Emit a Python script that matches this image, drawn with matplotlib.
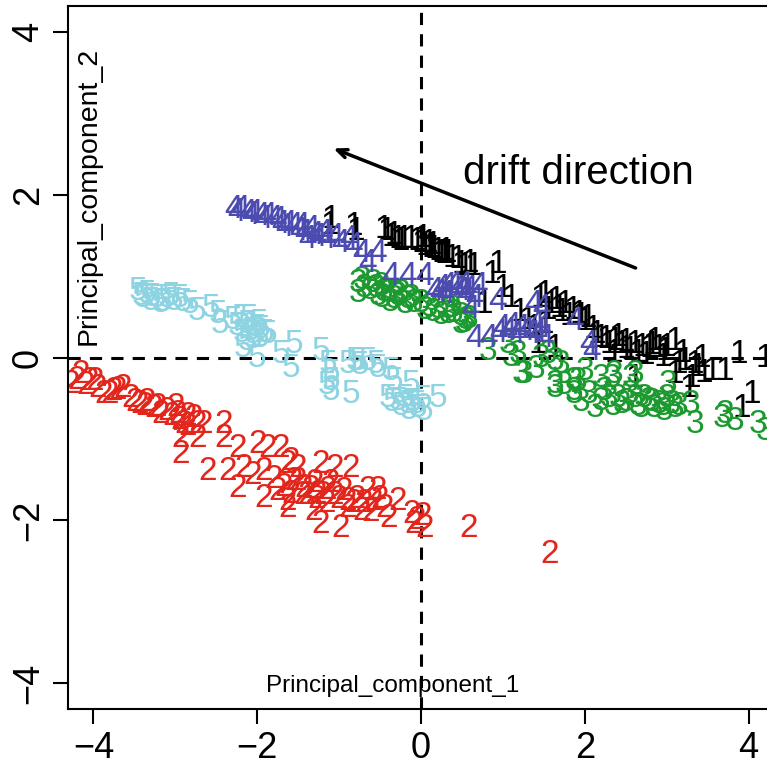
import matplotlib
matplotlib.use('Agg')
import matplotlib.pyplot as plt

# PCA scores (PC1, PC2) per class, each point drawn as its class digit
class1_scores = [
    (-1.10, 1.69), (-0.82, 1.61), (-0.45, 1.57), (-0.37, 1.48), (-0.28, 1.45), (-0.21, 1.45),
    (-0.12, 1.45), (0.00, 1.40), (0.09, 1.40), (0.16, 1.33), (0.24, 1.28), (0.33, 1.28),
    (0.53, 1.12), (0.65, 1.12), (0.12, 1.34), (0.21, 1.30), (0.28, 1.26), (0.49, 1.14),
    (0.86, 1.02), (0.94, 1.14), (0.77, 0.65), (1.10, 0.72), (1.51, 0.77), (1.59, 0.65),
    (1.68, 0.60), (1.75, 0.65), (1.92, 0.53), (2.00, 0.44), (2.04, 0.48), (2.20, 0.23),
    (2.29, 0.16), (2.36, 0.20), (2.45, 0.16), (2.61, 0.16), (2.78, 0.11), (2.90, 0.11),
    (2.97, 0.07), (3.10, 0.20), (3.22, -0.05), (3.34, -0.09), (3.43, -0.01), (3.55, -0.17),
    (3.71, -0.17), (3.88, 0.04), (4.20, -0.01), (4.04, -0.45), (3.92, -0.63), (3.27, -0.38),
    (2.61, -0.26), (1.38, 0.36), (1.51, 0.40), (1.43, 0.16), (1.63, 0.11), (3.10, -0.21),
    (3.30, -0.26), (2.50, 0.10), (2.65, 0.05), (2.85, 0.20), (2.35, 0.05), (1.80, 0.50),
    (1.20, 0.55), (-0.42, 1.55), (-0.33, 1.50), (-0.25, 1.42), (-0.05, 1.43), (0.05, 1.37),
    (0.14, 1.38), (0.30, 1.30), (0.38, 1.22), (0.45, 1.20), (0.60, 1.15), (0.02, 1.46),
    (-1.12, 1.62), (-0.80, 1.55), (1.45, 0.72), (1.55, 0.58), (1.65, 0.70), (1.72, 0.55),
    (1.85, 0.58), (1.95, 0.50), (2.10, 0.35), (2.15, 0.28), (2.25, 0.22), (2.40, 0.25),
    (2.50, 0.18), (2.55, 0.08), (2.70, 0.12), (2.75, 0.02), (2.82, 0.15), (2.95, 0.00),
    (3.00, 0.12), (3.15, -0.08), (3.20, 0.05), (3.38, -0.12), (3.45, -0.20), (1.00, 0.85),
    (1.30, 0.45),
]

class2_scores = [
    (-4.28, -0.33), (-4.16, -0.21), (-4.04, -0.29), (-3.88, -0.45), (-3.64, -0.38), (-3.55, -0.50),
    (-3.43, -0.58), (-3.27, -0.63), (-3.18, -0.70), (-3.10, -0.66), (-2.97, -0.70), (-2.90, -0.82),
    (-2.78, -0.75), (-2.73, -0.82), (-2.94, -0.99), (-2.73, -0.99), (-2.41, -0.82), (-2.41, -0.99),
    (-2.24, -1.12), (-2.00, -1.07), (-1.87, -1.12), (-1.71, -1.12), (-2.94, -1.19), (-2.61, -1.40),
    (-2.36, -1.40), (-2.17, -1.36), (-2.24, -1.61), (-1.92, -1.40), (-1.92, -1.73), (-1.59, -1.28),
    (-1.55, -1.52), (-1.59, -1.68), (-1.63, -1.85), (-1.43, -1.61), (-1.63, -1.31), (-1.51, -1.36),
    (-1.63, -1.77), (-1.51, -1.52), (-1.22, -1.31), (-1.06, -1.36), (-0.86, -1.36), (-1.26, -1.68),
    (-1.14, -1.64), (-1.22, -2.05), (-1.31, -1.89), (-0.98, -2.10), (-0.89, -1.77), (-0.82, -1.80),
    (-0.73, -1.89), (-0.65, -1.64), (-0.53, -1.64), (-0.58, -1.77), (-0.45, -1.85), (-0.40, -1.98),
    (-0.28, -1.77), (-0.12, -1.93), (-0.09, -2.05), (0.04, -2.10), (0.58, -2.10), (1.57, -2.42),
    (-4.20, -0.28), (-3.95, -0.38), (-3.75, -0.42), (-3.35, -0.55), (-3.00, -0.62), (-2.85, -0.72),
    (-1.30, -1.55), (-1.20, -1.70), (-1.00, -1.75), (-0.95, -1.65), (-1.40, -1.70), (-1.10, -1.55),
    (-4.10, -0.35), (-3.98, -0.30), (-3.80, -0.45), (-3.70, -0.40), (-3.50, -0.55), (-3.38, -0.60),
    (-3.22, -0.62), (-3.05, -0.72), (-2.95, -0.78), (-2.85, -0.85), (-2.65, -0.82), (-1.68, -1.60),
    (-1.45, -1.70), (-1.35, -1.62), (-1.28, -1.75), (-1.15, -1.80), (-1.05, -1.70), (-0.90, -1.85),
    (-0.78, -1.75), (-0.70, -1.80), (-0.62, -1.90), (-0.50, -1.75), (-2.05, -1.45), (-1.80, -1.50),
    (-1.75, -1.65), (-0.05, -2.00), (0.02, -1.95),
]

class3_scores = [
    (-0.77, 0.91), (-0.77, 0.79), (-0.58, 0.91), (-0.49, 0.87), (-0.40, 0.79), (-0.53, 0.75),
    (-0.33, 0.71), (-0.24, 0.79), (-0.16, 0.71), (-0.09, 0.66), (0.00, 0.66), (0.21, 0.59),
    (0.33, 0.59), (0.40, 0.54), (0.49, 0.50), (0.58, 0.47), (0.33, 0.53), (0.49, 0.40),
    (0.82, 0.07), (1.06, 0.16), (1.19, 0.04), (1.22, -0.21), (1.47, -0.01), (1.55, 0.04),
    (1.63, -0.33), (1.71, -0.09), (1.87, -0.29), (1.87, -0.42), (2.00, -0.17), (2.12, -0.63),
    (2.24, -0.42), (2.33, -0.26), (2.41, -0.50), (2.57, -0.26), (2.61, -0.50), (2.78, -0.54),
    (2.90, -0.58), (2.97, -0.66), (3.06, -0.58), (3.02, -0.33), (3.30, -0.58), (3.34, -0.82),
    (3.71, -0.70), (3.83, -0.79), (4.12, -0.82), (4.20, -0.91), (1.26, -0.21), (1.63, -0.38),
    (1.87, -0.45), (2.20, -0.54), (2.45, -0.58), (2.69, -0.63), (2.85, -0.63), (3.10, -0.63),
    (3.67, -0.75), (2.20, -0.26), (2.36, -0.21), (2.61, -0.21), (1.92, -0.29), (1.63, -0.05),
    (-0.70, 0.85), (-0.45, 0.80), (-0.30, 0.78), (-0.20, 0.65), (0.10, 0.62), (0.55, 0.45),
    (-0.72, 0.95), (-0.62, 0.82), (-0.55, 0.85), (-0.48, 0.72), (-0.38, 0.68), (-0.28, 0.75),
    (-0.12, 0.72), (0.05, 0.58), (0.15, 0.55), (0.25, 0.52), (0.38, 0.60), (0.52, 0.42),
    (2.30, -0.50), (2.35, -0.60), (2.50, -0.55), (2.55, -0.45), (2.65, -0.60), (2.72, -0.50),
    (2.82, -0.55), (2.95, -0.60), (3.00, -0.50), (3.15, -0.60), (2.05, -0.45), (1.95, -0.55),
    (1.75, -0.35), (1.40, -0.15), (1.10, 0.00),
]

class4_scores = [
    (-2.29, 1.82), (-2.20, 1.82), (-2.12, 1.77), (-2.04, 1.77), (-1.96, 1.73), (-1.87, 1.73),
    (-1.80, 1.69), (-1.71, 1.64), (-1.63, 1.64), (-1.55, 1.61), (-1.47, 1.61), (-1.43, 1.52),
    (-1.35, 1.57), (-1.26, 1.48), (-1.38, 1.45), (-1.19, 1.52), (-1.06, 1.48), (-0.98, 1.40),
    (-0.89, 1.45), (-0.82, 1.36), (-0.73, 1.28), (-0.65, 1.15), (-0.53, 1.28), (-0.37, 0.99),
    (-0.16, 0.99), (0.04, 0.99), (0.21, 0.79), (0.33, 0.87), (0.45, 0.83), (0.58, 0.83),
    (0.70, 0.87), (0.61, 0.59), (0.65, 0.72), (0.94, 0.69), (0.65, 0.23), (0.82, 0.23),
    (0.98, 0.36), (1.06, 0.32), (1.22, 0.36), (1.35, 0.28), (1.47, 0.60), (1.47, 0.36),
    (1.51, 0.23), (1.87, 0.44), (2.08, 0.07), (0.16, 0.81), (0.49, 0.81), (1.38, 0.65),
    (2.04, 0.16), (-2.25, 1.78), (-2.08, 1.75), (-1.92, 1.70), (-1.75, 1.68), (-1.67, 1.60),
    (-1.50, 1.55), (-1.30, 1.50), (-1.15, 1.45), (0.30, 0.78), (0.40, 0.88), (0.55, 0.78),
    (0.52, 0.88), (0.95, 0.30), (1.10, 0.38), (1.15, 0.28), (1.28, 0.32), (1.40, 0.40),
    (1.42, 0.30), (0.25, 0.85),
]

class5_scores = [
    (-3.46, 0.81), (-3.39, 0.72), (-3.30, 0.69), (-3.22, 0.72), (-3.10, 0.72), (-3.02, 0.69),
    (-2.94, 0.72), (-2.82, 0.65), (-2.73, 0.56), (-2.57, 0.60), (-2.48, 0.53), (-2.45, 0.40),
    (-2.20, 0.48), (-2.12, 0.40), (-2.08, 0.32), (-2.00, 0.36), (-2.12, 0.20), (-1.96, 0.23),
    (-1.87, 0.28), (-2.17, 0.11), (-2.00, -0.01), (-1.71, 0.04), (-1.55, 0.16), (-1.59, -0.13),
    (-1.22, 0.07), (-1.14, -0.09), (-1.10, -0.29), (-1.10, -0.42), (-0.86, -0.45), (-0.89, -0.09),
    (-0.77, -0.05), (-0.65, -0.05), (-0.53, -0.13), (-0.37, -0.17), (-0.33, -0.29), (-0.12, -0.33),
    (-0.40, -0.50), (-0.28, -0.54), (-0.16, -0.58), (-0.04, -0.63), (0.04, -0.66), (0.21, -0.50),
    (-3.35, 0.78), (-3.15, 0.68), (-2.30, 0.45), (-2.05, 0.28), (-1.95, 0.35), (-0.75, -0.10),
    (-0.20, -0.50), (-0.10, -0.55), (-3.42, 0.75), (-3.28, 0.74), (-3.18, 0.66), (-3.05, 0.75),
    (-2.90, 0.68), (-2.25, 0.38), (-2.18, 0.30), (-2.05, 0.22), (-1.98, 0.42), (-2.10, 0.48),
    (-1.90, 0.30), (-1.10, -0.20), (-1.15, -0.35), (-0.80, -0.05), (-0.55, -0.08), (-0.35, -0.55),
    (-0.25, -0.60), (-0.15, -0.65), (-0.05, -0.58), (0.02, -0.52),
]

class_labels = ['1', '2', '3', '4', '5']
class_colors = ['black', '#e2261c', '#1c9a30', '#4b4bb0', '#8dd3e1']
class_scores = [class1_scores, class2_scores, class3_scores, class4_scores, class5_scores]

x_ticks = [-4, -2, 0, 2, 4]
y_ticks = [-4, -2, 0, 2, 4]

plt.rcParams['font.family'] = ['Liberation Sans', 'DejaVu Sans']

fig = plt.figure(figsize=(7.67, 7.76), dpi=100)
ax = fig.add_axes([68 / 767, 67 / 776, 706 / 767, 703 / 776])
ax.set_xlim(-4.31, 4.31)
ax.set_ylim(-4.32, 4.32)

# dashed reference axes through the origin
ax.axhline(0, color='black', lw=2.2, ls=(0, (4, 3)), zorder=1)
ax.axvline(0, color='black', lw=2.2, ls=(0, (4, 3)), zorder=1)

for label, color, scores in zip(class_labels, class_colors, class_scores):
    for x, y in scores:
        ax.text(x, y, label, color=color, fontsize=24, ha='center', va='center',
                clip_on=True, zorder=2)

ax.annotate('', xy=(-1.07, 2.57), xytext=(2.62, 1.10),
            arrowprops=dict(arrowstyle='->,head_length=0.7,head_width=0.3',
                            color='black', lw=2.5, shrinkA=0, shrinkB=0))
ax.text(1.92, 2.27, 'drift direction', fontsize=29, ha='center', va='center')

ax.text(-0.35, -4.04, 'Principal_component_1', fontsize=17.5, ha='center', va='center')
ax.text(-4.06, 1.98, 'Principal_component_2', fontsize=20.5,
        rotation=90, ha='center', va='center')

ax.set_xticks(x_ticks)
ax.set_yticks(y_ticks)
ax.set_xticklabels([str(t).replace('-', '\u2212') for t in x_ticks])
ax.set_yticklabels([str(t).replace('-', '\u2212') for t in y_ticks], rotation=90, va='center')
ax.tick_params(length=11, width=1.5, labelsize=26, pad=5)
for side in ['left', 'bottom', 'top']:
    ax.spines[side].set_linewidth(1.5)
ax.spines['right'].set_visible(False)

fig.savefig('out.png', dpi=100)
